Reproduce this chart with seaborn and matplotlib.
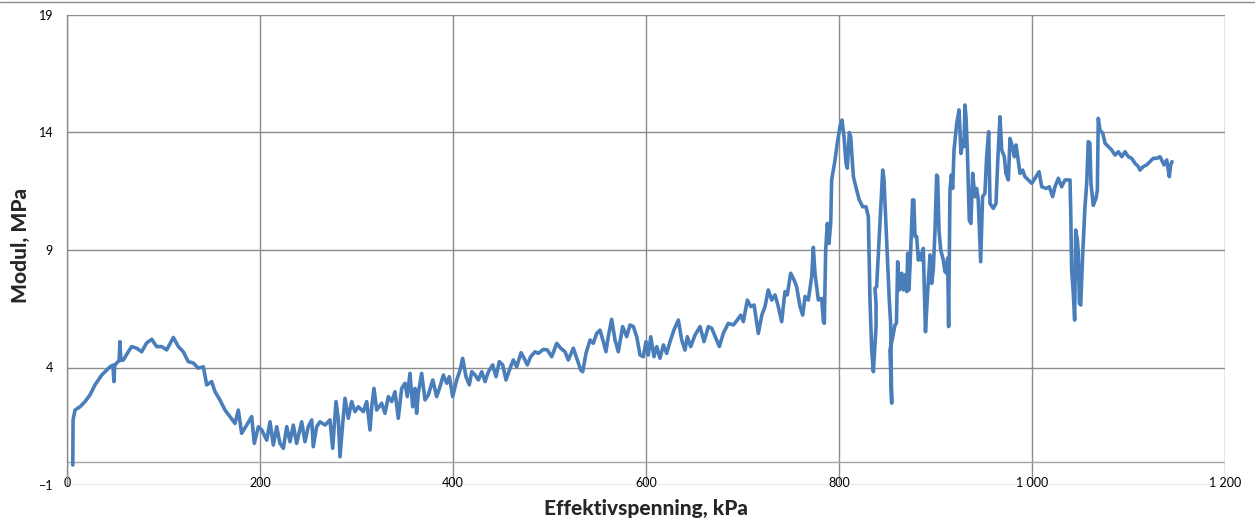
import pandas as pd
import seaborn as sns
import matplotlib.pyplot as plt

# Values
spenning = [6, 6.3, 8.3, 13.5, 18.7, 23.8, 29, 36, 44.6, 47.5, 48.7, 49.5, 51.5, 54, 54.9, 55.8,
            58.4, 63.5, 67, 72.2, 77.4, 82.6, 87.8, 92.9, 98.1, 103.3, 110.2, 115.4, 120.5, 125.7,
            130.9, 136.1, 141.3, 144.8, 149.9, 153.4, 158.5, 163.7, 168.9, 174.1, 177.5, 181, 186.2,
            191.4, 194.1, 198.3,
            201.8, 207, 210.4, 213.8, 217.3, 220.7, 224.2, 227.7, 231.1, 234.5, 238, 243.2, 246.6,
            250, 253.6, 255.2, 258.7, 262.2, 267.4, 272.5, 275.3, 278.8, 281.2, 282.9, 285.7, 288.1,
            291.5, 295, 298.4, 301.9, 307.1, 310.6, 314, 315.8, 318.1, 320.9, 326.1, 329.5, 333,
            336.5, 339.9, 343.3, 346.8, 350.3, 352.6, 355.4, 358.2, 360.6, 362.3, 364, 367.5, 371,
            374.4, 379, 383.1, 386.5, 390, 393.5, 396.2, 399.7,
            403.8, 407.3, 410, 413.5, 416.9, 419.4, 422.8, 426.3, 429.8, 433.2, 436.7, 441.1, 444.6,
            448, 451.5, 454.9, 459.1, 462.5, 466, 470.5, 474.6, 477, 480.5, 485, 488.4, 493.6, 497.7,
            502.3, 507.5, 511.6, 516.1, 519.5, 524.7, 528.8, 532.4, 534.4, 537.8, 542, 545.4, 548.9,
            552.3, 555.8, 558.5, 560.9, 564.4, 567.9, 571.3, 575.8, 580, 583.4, 586.9, 590.4, 593.8,
            597.2, 600,
            602.4, 604.9, 608.3, 611.1, 614.5, 618, 621.4, 624.9, 629, 633.5, 637, 640.4, 642.8,
            646.3, 650.8, 656, 660.1, 664.6, 668.1, 672.5, 676, 680.1, 685.3, 690.5, 694.6, 698.2,
            700.9, 705, 708.6, 712, 716.4, 720, 723.3, 726.7, 730.3, 733.7, 737.1, 740.6, 744, 746.4,
            749.9, 753.4, 756.1, 759.6, 762.4, 764.8, 768.2, 771.7, 773.4, 775.1, 778.6, 782.1,
            783.8, 784.8, 786.2, 787.9, 789.6, 791.4, 792.4, 795.9, 798.2,
            801, 803.1, 805.2, 807.3, 808.6, 810.7, 812.1, 814.9, 818.3, 821, 824.6, 828, 830.4,
            832.1, 833.9, 835.6, 838.4, 838.4, 837.3, 839, 845.3, 846.6, 849.4, 852.1, 853.5, 854.6,
            852.8, 855.7, 858, 859.5, 860.8, 862.5, 865, 866.7, 868.4, 870.2, 871.2, 872.5, 874.3,
            876.3, 877.5, 878.8, 880.5, 882.2, 884, 885.7, 887.4, 888, 889.6, 892, 894.3, 896, 897.7,
            899.5, 901.2, 902.2, 903.6, 905.4, 908.1, 909.8, 911.5, 912.6, 913.6, 915, 916.4, 917.8,
            919.2, 922, 924.4, 926.4, 928.2, 929.5, 930.5, 931.6, 933, 935, 936.7, 938.5, 940.9,
            942.6, 944.3, 946.8, 948.8, 951.2, 953, 955.1, 956.5, 959.9, 962.7, 964.4, 966.8, 968.6,
            971.3, 973, 975.5, 977.2, 979.6, 981.7, 983.4, 985.2, 987.6, 990.3, 992.7, 996.2, 999.7,
            1003.1, 1007.3, 1010.1, 1014.6, 1017.9, 1021.4, 1023.8, 1027.3, 1030.7, 1034.2, 1037.6,
            1039.4, 1040.1, 1041.1, 1042.8, 1044.2, 1045.3, 1047, 1048, 1049.1, 1050.5, 1052.5,
            1054.9, 1056.7, 1058.3, 1060, 1061.1, 1063.5, 1066.3, 1067.7, 1068.7, 1070.4, 1073.3,
            1075.7, 1079.1, 1082.5, 1086, 1089.5, 1093, 1096.4, 1099.8, 1103.3, 1106.7, 1110.2,
            1111.9, 1115.3, 1118.8, 1122.3, 1125.7, 1129.2, 1132.6, 1134.4, 1136.8, 1139.6, 1142.3,
            1143.7, 1145.1]

modul = [-0.15, 1.77, 2.19, 2.33, 2.55, 2.83, 3.26, 3.68, 4.03, 4.1, 3.4, 4.1, 4.19, 4.3, 5.1, 4.3,
         4.32, 4.67, 4.89, 4.82, 4.67, 5.05, 5.2, 4.89, 4.89, 4.75, 5.28, 4.89, 4.67, 4.25,
         4.19, 3.97, 4.03, 3.26, 3.4, 2.97, 2.62, 2.19, 1.91, 1.62, 2.19, 1.2, 1.55,
         1.91, 0.77, 1.48,
         1.34, 0.91, 1.69, 0.7, 1.48, 0.77, 0.56, 1.48, 0.84, 1.55, 0.77, 1.69, 0.84,
         1.48, 1.77, 0.63, 1.48, 1.69, 1.55, 1.77, 0.56, 2.55, 1.77, 0.2, 1.62, 2.69,
         1.84, 2.55, 2.12, 2.33, 2.12, 2.55, 1.34, 2.33, 3.11, 2.19, 2.48, 2.05, 2.76,
         2.55, 2.97, 1.84, 3.11, 3.33, 2.76, 3.75, 2.33, 3.11, 2.05, 2.9, 3.75, 2.62,
         2.83, 3.47, 2.76, 3.18, 3.68, 3.33, 3.61, 2.76,
         3.47, 3.89, 4.39, 3.61, 3.26, 3.82, 3.68, 3.47, 3.82, 3.4, 3.82, 4.11, 3.61,
         4.25, 4.11, 3.47, 3.96, 4.32, 4.03, 4.63, 4.32, 4.11, 4.46, 4.67, 4.6, 4.77, 4.75,
         4.46, 5.03, 4.82, 4.67, 4.32, 4.82, 4.32, 3.89, 3.82, 4.6, 5.17, 5.03, 5.45,
         5.59, 5.1, 4.67, 5.31, 6.05, 5.17, 4.67, 5.74, 5.31, 5.81, 5.74, 5.31, 4.53,
         4.46, 5.1,
         4.53, 5.31, 4.46, 4.89, 4.39, 4.96, 4.6, 5.1, 5.6, 6.02, 5.17, 4.74, 5.31,
         4.89, 5.38, 5.74, 5.1, 5.74, 5.67, 5.24, 4.89, 5.45, 5.88, 5.81, 6.02, 6.23,
         5.95, 6.87, 6.59, 6.66, 5.45, 6.23, 6.59, 7.3, 6.87, 7.09, 6.59, 5.95, 7.23, 7.09,
         8.01, 7.73, 7.44, 6.59, 6.23, 7.02, 6.87, 7.87, 9.11, 8.01, 6.87, 6.94,
         5.95, 5.88, 9.0, 10.13, 9.28, 10.13, 11.98, 12.83, 13.54,
         14.25, 14.53, 13.82, 12.69, 12.48, 14.0, 13.82, 12.12, 11.55, 11.13, 10.84, 10.84, 10.42,
         6.87, 4.74, 3.82, 5.74, 6.73, 7.37, 7.44, 12.4, 12.0, 9.43, 6.87, 5.88, 2.48,
         4.74, 5.3, 5.81, 5.88, 8.5, 7.3, 8.01, 7.3, 7.94, 7.23, 8.86, 7.3, 9.0,
         11.13, 11.13, 9.57, 9.57, 8.57, 8.86, 8.57, 9.07, 8.01, 5.52, 7.3, 8.79, 7.58, 8.15,
         9.85, 12.19, 12.12, 9.85, 9.0, 8.57, 8.08, 8.01, 8.65, 5.74, 11.55, 12.19, 11.62,
         13.26, 14.39, 14.96, 13.11, 13.68, 13.4, 15.17, 14.67, 13.26, 10.28, 10.13, 12.26, 11.27,
         11.62, 11.13, 8.5, 11.27, 11.41, 12.97, 14.03, 10.98, 10.77, 10.98, 12.69, 14.67, 13.26,
         12.97, 12.26, 11.98, 13.75, 13.4, 12.97, 13.47, 12.97, 12.26, 12.4, 12.12, 11.98, 11.84,
         12.05, 12.33, 11.69, 11.62, 11.69, 11.27, 11.69, 12.05, 11.69, 11.98, 11.98,
         11.98, 10.7, 8.15, 7.16, 6.02, 9.85, 9.43, 8.86, 6.73, 6.66, 8.79,
         10.84, 11.84, 13.61, 13.54, 11.84, 10.9, 11.2, 11.55, 14.6, 14.1, 13.97,
         13.54, 13.4, 13.26, 13.04, 13.18, 12.97, 13.18, 12.97, 12.9, 12.69, 12.55,
         12.4, 12.55, 12.62, 12.76, 12.9, 12.9, 12.97, 12.83, 12.62, 12.83, 12.12,
         12.62, 12.76]

x_ticks = [0, 200, 400, 600, 800, 1000, 1200]
x_tick_labels = ["0", "200", "400", "600", "800", "1 000", "1 200"]
y_ticks = [-1, 4, 9, 14, 19]

df = pd.DataFrame({"spenning": spenning, "modul": modul})

sns.set_style("white")
plt.rcParams['font.family'] = ['Lato', 'DejaVu Sans']

fig = plt.figure(figsize=(12.55, 5.25), dpi=100)
ax = fig.add_axes([67 / 1255, 40 / 525, 1158 / 1255, 470 / 525])

sns.lineplot(data=df, x="spenning", y="modul", sort=False, estimator=None,
             color="#4a7ebb", linewidth=2.6, ax=ax)

ax.set_xlim(0, 1200)
ax.set_ylim(-1, 19)
ax.set_xticks(x_ticks)
ax.set_xticklabels(x_tick_labels)
ax.set_yticks(y_ticks)

ax.grid(True, color="#8c8c8c", linewidth=1)
ax.set_axisbelow(True)
ax.axhline(0, color="#a6a6a6", linewidth=1, zorder=1)
for side in ["top", "right", "bottom"]:
    ax.spines[side].set_visible(False)
ax.spines["left"].set_color("#8c8c8c")
ax.spines["left"].set_linewidth(1)

ax.tick_params(axis="both", length=0, labelsize=9, labelcolor="black")
ax.tick_params(axis="x", pad=-6)
ax.tick_params(axis="y", pad=10)

ax.set_xlabel("Effektivspenning, kPa", fontsize=15, fontweight="black", va="center")
ax.set_ylabel("Modul, MPa", fontsize=15, fontweight="black", va="center")
ax.xaxis.set_label_coords(0.5, -0.049)
ax.yaxis.set_label_coords(-0.04, 0.51)

# grey border line at top of chart area
fig.add_artist(plt.Line2D([0, 1], [1 - 2 / 525, 1 - 2 / 525], color="#8c8c8c", linewidth=1))

plt.savefig("out.png", dpi=100)
